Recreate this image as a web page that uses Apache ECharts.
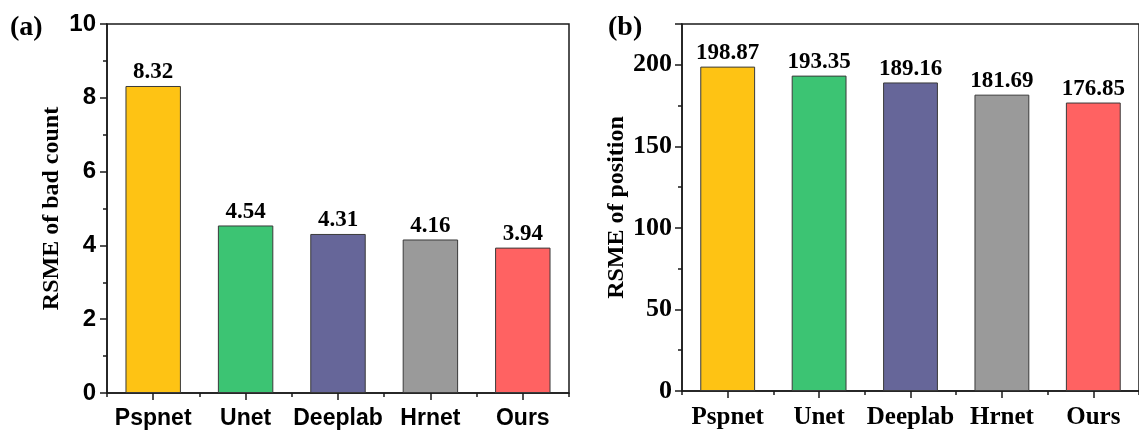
<!DOCTYPE html>
<html>
<head>
<meta charset="utf-8">
<script src="https://cdn.jsdelivr.net/npm/echarts@6/dist/echarts.min.js"></script>
<style>
html,body{margin:0;padding:0;background:#fff;}
#chart{width:1139px;height:430px;}
</style>
</head>
<body>
<div id="chart"></div>
<script>
const categories = ['Pspnet', 'Unet', 'Deeplab', 'Hrnet', 'Ours'];
const badCount = [8.32, 4.54, 4.31, 4.16, 3.94];
const position = [198.87, 193.35, 189.16, 181.69, 176.85];
const barColors = ['#FEC314', '#3CC473', '#666699', '#9A9A9A', '#FF6262'];

const serif = '"Liberation Serif", "Times New Roman", serif';
const sans = '"Liberation Sans", Arial, sans-serif';
const axisColor = '#1a1a1a';

function xAxes(gridIndex, labelFont, fontSize) {
  return [
    {
      type: 'category', gridIndex: gridIndex, data: categories, position: 'bottom',
      axisLine: { show: true, lineStyle: { color: axisColor, width: 1.5 } },
      axisTick: { show: true, alignWithLabel: true, length: 7, lineStyle: { color: axisColor, width: 1.5 } },
      axisLabel: { interval: 0, fontFamily: labelFont, fontWeight: 'bold', fontSize: fontSize, color: '#000', margin: 14 }
    },
    {
      type: 'category', gridIndex: gridIndex, data: categories, position: 'bottom',
      axisLine: { show: false },
      axisTick: { show: true, interval: 0, alignWithLabel: false, length: 4, lineStyle: { color: axisColor, width: 1.5 } },
      axisLabel: { show: false }
    }
  ];
}

function yAxis(gridIndex, max, interval, labelFont, fontSize, margin, title, nameGap) {
  return {
    type: 'value', gridIndex: gridIndex, min: 0, max: max, interval: interval,
    name: title, nameLocation: 'middle', nameGap: nameGap,
    nameTextStyle: { fontFamily: serif, fontWeight: 'bold', fontSize: 24, color: '#000' },
    axisLine: { show: true, lineStyle: { color: axisColor, width: 1.5 } },
    axisTick: { show: true, length: 7, lineStyle: { color: axisColor, width: 1.5 } },
    minorTick: { show: true, splitNumber: 2, length: 4, lineStyle: { color: axisColor, width: 1.5 } },
    splitLine: { show: false },
    axisLabel: {
      showMaxLabel: max % interval === 0, fontFamily: labelFont, fontWeight: 'bold',
      fontSize: fontSize, color: '#000', margin: margin
    }
  };
}

function barSeries(xIdx, yIdx, values) {
  return {
    type: 'bar', xAxisIndex: xIdx, yAxisIndex: yIdx, barWidth: '60%',
    data: values.map((v, i) => ({ value: v, itemStyle: { color: barColors[i] } })),
    itemStyle: { borderColor: '#3a3a3a', borderWidth: 1 },
    label: {
      show: true, position: 'top', distance: 2,
      formatter: p => p.value.toFixed(2),
      fontFamily: serif, fontWeight: 'bold', fontSize: 23, color: '#000'
    }
  };
}

const chart = echarts.init(document.getElementById('chart'));
chart.setOption({
  animation: false,
  backgroundColor: '#fff',
  title: [
    { text: '(a)', left: 5, top: 9, textStyle: { fontFamily: serif, fontWeight: 'bold', fontSize: 28, color: '#000' } },
    { text: '(b)', left: 603, top: 9, textStyle: { fontFamily: serif, fontWeight: 'bold', fontSize: 28, color: '#000' } }
  ],
  grid: [
    { left: 107, top: 24, width: 462, height: 371, show: true, borderColor: axisColor, borderWidth: 1.5 },
    { left: 682, top: 24, width: 463, height: 372, show: true, borderColor: axisColor, borderWidth: 1.5 }
  ],
  xAxis: [...xAxes(0, sans, 23), ...xAxes(1, serif, 25)],
  yAxis: [
    yAxis(0, 10, 2, sans, 24, 11, 'RSME of bad count', 43),
    yAxis(1, 225, 50, serif, 26, 10, 'RSME of position', 52)
  ],
  series: [
    barSeries(0, 0, badCount),
    barSeries(2, 1, position)
  ]
});
</script>
</body>
</html>
